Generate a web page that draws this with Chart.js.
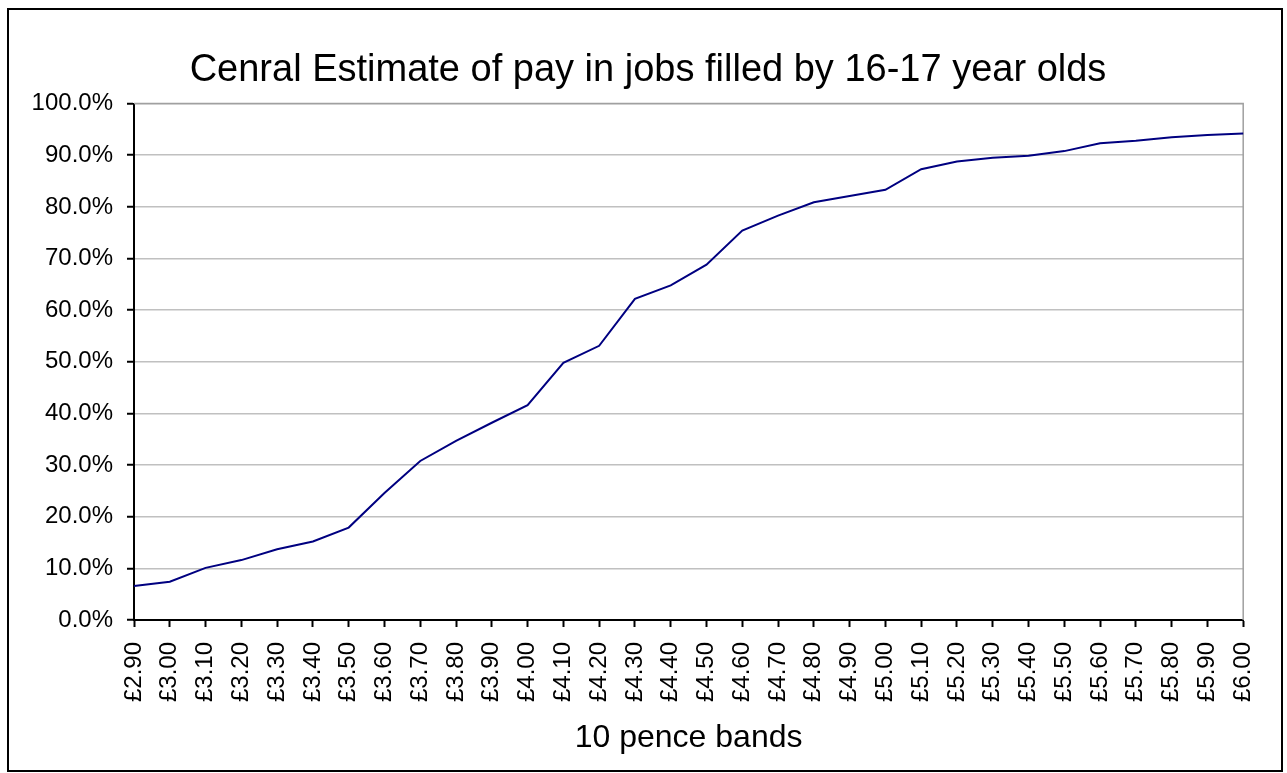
<!DOCTYPE html>
<html>
<head>
<meta charset="utf-8">
<script src="https://cdn.jsdelivr.net/npm/chart.js@4"></script>
<style>
  body { margin: 0; background: #fff; }
</style>
</head>
<body>
<canvas id="pay_chart" width="1287" height="773"></canvas>
<script>
// 10p pay bands and cumulative share of jobs (%)
var bands = ["£2.90","£3.00","£3.10","£3.20","£3.30","£3.40","£3.50","£3.60","£3.70","£3.80",
             "£3.90","£4.00","£4.10","£4.20","£4.30","£4.40","£4.50","£4.60","£4.70","£4.80",
             "£4.90","£5.00","£5.10","£5.20","£5.30","£5.40","£5.50","£5.60","£5.70","£5.80",
             "£5.90","£6.00"];
var share = [6.6, 7.4, 10.1, 11.6, 13.7, 15.2, 17.9, 24.6, 30.8, 34.7,
             38.2, 41.6, 49.8, 53.1, 62.2, 64.8, 68.8, 75.4, 78.3, 80.9,
             82.1, 83.3, 87.3, 88.8, 89.5, 89.9, 90.8, 92.3, 92.8, 93.5,
             93.9, 94.2];
var yTicks = [0, 10, 20, 30, 40, 50, 60, 70, 80, 90, 100];

var fontFamily = "'Liberation Sans', Arial, sans-serif";

// grey frame for the plot area and black outline round the whole chart
var framePlugin = {
  id: 'frame',
  beforeDatasetsDraw: function(chart) {
    var a = chart.chartArea;
    var ctx = chart.ctx;
    ctx.save();
    ctx.strokeStyle = '#a0a0a0';
    ctx.lineWidth = 1.5;
    ctx.beginPath();
    ctx.moveTo(a.left, a.top);
    ctx.lineTo(a.right, a.top);
    ctx.lineTo(a.right, a.bottom);
    ctx.stroke();
    ctx.restore();
  },
  afterDraw: function(chart) {
    var ctx = chart.ctx;
    ctx.save();
    ctx.strokeStyle = '#000';
    ctx.lineWidth = 2;
    ctx.strokeRect(8, 9, 1274, 762);
    ctx.restore();
  }
};

var ctx = document.getElementById("pay_chart");
var pay_chart = new Chart(ctx, {
  type: 'line',
  data: {
    labels: bands,
    datasets: [
      {
        data: share,
        borderColor: "#000080",
        borderWidth: 2,
        pointRadius: 0,
        fill: false,
        tension: 0
      }
    ]
  },
  options: {
    responsive: false,
    animation: false,
    layout: { padding: { left: 9, right: 0, top: 0, bottom: 16 } },
    plugins: {
      legend: { display: false },
      tooltip: { enabled: false },
      title: {
        display: true,
        text: "Cenral Estimate of pay in jobs filled by 16-17 year olds",
        color: '#000',
        font: { family: fontFamily, size: 38, weight: 'normal' },
        padding: { top: 48, bottom: 10 }
      }
    },
    scales: {
      x: {
        offset: false,
        grid: { drawOnChartArea: false, drawTicks: true, tickLength: 7, tickColor: '#000', tickWidth: 2 },
        border: { color: '#000', width: 2 },
        ticks: {
          color: '#000',
          font: { family: fontFamily, size: 24 },
          minRotation: 90,
          maxRotation: 90,
          autoSkip: false,
          padding: 15
        },
        title: {
          display: true,
          text: "10 pence bands",
          color: '#000',
          font: { family: fontFamily, size: 32 },
          padding: { top: 14, bottom: 0 }
        },
        afterFit: function(scale) { scale.height = 137; }
      },
      y: {
        min: 0,
        max: 100,
        afterBuildTicks: function(scale) {
          scale.ticks = yTicks.map(function(v) { return { value: v }; });
        },
        grid: { color: '#c0c0c0', lineWidth: 1.5, tickLength: 7, tickColor: '#000', tickWidth: 2 },
        border: { color: '#000', width: 2 },
        ticks: {
          color: '#000',
          font: { family: fontFamily, size: 24 },
          padding: 14,
          callback: function(v) { return v.toFixed(1) + '%'; }
        },
        afterFit: function(scale) { scale.width = 125; }
      },
      // empty right-hand strip so the plot ends where the original does
      spacer: {
        type: 'linear',
        position: 'right',
        display: true,
        grid: { display: false, drawTicks: false },
        border: { display: false },
        ticks: { display: false },
        afterFit: function(scale) { scale.width = 42; }
      }
    }
  },
  plugins: [framePlugin]
});
</script>
</body>
</html>
